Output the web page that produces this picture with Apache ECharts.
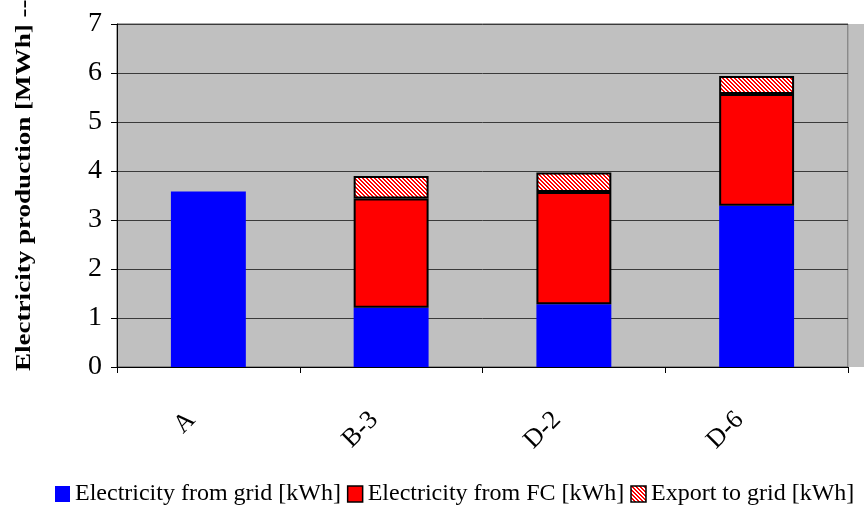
<!DOCTYPE html>
<html>
<head>
<meta charset="utf-8">
<script src="https://cdn.jsdelivr.net/npm/echarts@6/dist/echarts.min.js"></script>
<style>
  html, body { margin: 0; padding: 0; background: #fff; }
  #chart { width: 864px; height: 506px; }
</style>
</head>
<body>
<div id="chart"></div>
<script>
// Cases compared and their annual electricity balance [MWh]
const categories = ['A', 'B-3', 'D-2', 'D-6'];
const fromGrid = [3.58, 1.21, 1.28, 3.29];
const fromFC = [null, 2.23, 2.29, 2.28];
const exportToGrid = [null, 0.46, 0.40, 0.37];
const yTicks = [0, 1, 2, 3, 4, 5, 6, 7];

const seriesNames = ['Electricity from grid [kWh]', 'Electricity from FC [kWh]', 'Export to grid [kWh]'];
const yAxisTitle = 'Electricity production [MWh] -->';
const serifFont = '"Liberation Serif", "Times New Roman", serif';

// Red-on-white diagonal hatch for the exported share
function hatchPattern() {
  const c = document.createElement('canvas');
  c.width = 4; c.height = 4;
  const ctx = c.getContext('2d');
  ctx.fillStyle = '#ffffff';
  ctx.fillRect(0, 0, 4, 4);
  ctx.fillStyle = '#ff0000';
  for (let y = 0; y < 4; y++) {
    for (let x = 0; x < 4; x++) {
      if ((((x - y) % 4) + 4) % 4 < 2) ctx.fillRect(x, y, 1, 1);
    }
  }
  return c;
}
const hatch = { image: hatchPattern(), repeat: 'repeat' };

const chart = echarts.init(document.getElementById('chart'), null, { renderer: 'canvas' });

const gridBox = { left: 117, right: 16, top: 24, bottom: 139 };

chart.setOption({
  animation: false,
  backgroundColor: '#ffffff',
  textStyle: { fontFamily: serifFont },
  grid: {
    left: gridBox.left, right: gridBox.right, top: gridBox.top, bottom: gridBox.bottom,
    show: true, backgroundColor: '#c0c0c0', borderColor: '#555555', borderWidth: 1
  },
  legend: {
    top: 482, left: 55, padding: 0,
    icon: 'rect',
    itemWidth: 15, itemHeight: 16, itemGap: 6,
    textStyle: { fontFamily: serifFont, fontSize: 24, color: '#000' },
    data: [
      { name: seriesNames[0], itemStyle: { color: '#0000ff', borderWidth: 0 } },
      { name: seriesNames[1], itemStyle: { color: '#ff0000', borderColor: '#000', borderWidth: 1.5 } },
      { name: seriesNames[2], itemStyle: { color: hatch, borderColor: '#000', borderWidth: 1.5 } }
    ]
  },
  xAxis: {
    type: 'category',
    data: categories,
    axisLine: { show: true, lineStyle: { color: '#000', width: 1 } },
    axisTick: { show: true, length: 6, lineStyle: { color: '#000' } },
    axisLabel: {
      rotate: 45, margin: 66, fontSize: 26, color: '#000', fontFamily: serifFont,
      verticalAlign: 'bottom', lineHeight: 48
    }
  },
  yAxis: {
    type: 'value',
    min: yTicks[0], max: yTicks[yTicks.length - 1], interval: 1,
    axisLine: { show: true, lineStyle: { color: '#000', width: 1 } },
    axisTick: { show: true, length: 6, lineStyle: { color: '#000' } },
    axisLabel: { fontSize: 28, color: '#000', margin: 15, fontFamily: serifFont },
    splitLine: { show: true, lineStyle: { color: '#3a3a3a', width: 1 } }
  },
  graphic: [
    {
      // plot fill continues past the right frame line
      type: 'rect', silent: true, z: -1,
      shape: { x: 864 - gridBox.right + 1, y: gridBox.top, width: gridBox.right, height: 506 - gridBox.top - gridBox.bottom },
      style: { fill: '#c0c0c0' }
    },
    {
      type: 'text',
      x: 13, y: 371,
      rotation: Math.PI / 2,
      scaleX: 1.23, scaleY: 1,
      style: {
        text: yAxisTitle,
        font: 'bold 22px ' + serifFont,
        fill: '#000',
        textAlign: 'left',
        textVerticalAlign: 'top'
      },
      silent: true
    }
  ],
  series: [
    {
      name: seriesNames[0], type: 'bar', stack: 'total', barWidth: '41%',
      itemStyle: { color: '#0000ff' },
      data: fromGrid
    },
    {
      name: seriesNames[1], type: 'bar', stack: 'total', barWidth: '41%',
      itemStyle: { color: '#ff0000', borderColor: '#000', borderWidth: 2 },
      data: fromFC
    },
    {
      name: seriesNames[2], type: 'bar', stack: 'total', barWidth: '41%',
      itemStyle: { color: hatch, borderColor: '#000', borderWidth: 2 },
      data: exportToGrid
    }
  ]
});
</script>
</body>
</html>
